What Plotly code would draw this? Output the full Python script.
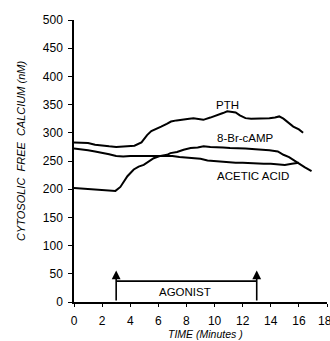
import plotly.graph_objects as go

# ---- data ----
pth_t = [0.0, 0.5, 1.0, 1.5, 2.0, 2.5, 3.0, 3.5, 4.0, 4.3, 4.8, 5.2, 5.5, 5.9, 6.2, 6.6, 6.9, 7.3,
         7.8, 8.2, 8.5, 8.9, 9.2, 9.7, 10.2, 10.6, 10.9, 11.2, 11.5, 11.8, 12.2, 12.6, 12.9, 13.4,
         13.9, 14.3, 14.6, 14.9, 15.3, 15.6, 16.0, 16.3]
pth_v = [283, 283, 282, 279, 277, 276, 275, 276, 276, 277, 283, 296, 303, 307, 311, 316, 320, 322,
         323, 325, 326, 324, 323, 327, 331, 335, 338, 337, 336, 331, 326, 325, 325, 326,
         326, 327, 329, 325, 317, 311, 306, 300]

brc_t = [0.0, 0.5, 1.0, 1.5, 2.1, 2.6, 2.95, 3.3, 3.5, 3.8, 4.25, 4.6, 4.96, 5.3, 5.67, 6.15, 6.62,
         6.86, 7.33, 7.8, 8.3, 8.8, 9.22, 9.7, 10.16, 10.6, 11.1, 11.5, 12.2, 12.9, 13.5, 13.9,
         14.5, 14.9, 15.3, 15.6, 16.0, 16.4, 16.9]
brc_v = [202, 201, 200, 199, 198, 197, 197, 204, 212, 223, 235, 240, 243, 249, 255, 259, 261,
         264, 266, 270, 273, 274, 276, 275, 275, 274, 273, 273, 272, 271, 270, 269,
         267, 261, 257, 252, 245, 239, 232]

ace_t = [0.0, 0.5, 1.0, 1.5, 2.0, 2.5, 3.0, 3.5, 4.0, 4.5, 5.0, 5.5, 6.0, 6.5, 7.0, 7.5, 8.0, 8.5,
         9.0, 9.5, 10.0, 10.5, 11.0, 11.5, 12.0, 12.5, 13.0, 13.5, 14.0, 14.5, 15.0, 15.5, 16.0]
ace_v = [272, 271, 269, 267, 265, 262, 259, 258, 259, 259, 259, 258, 258, 259, 259, 257, 256, 255,
         254, 251, 250, 248, 247, 247, 247, 246, 246, 245, 245, 244, 243, 245, 247]

series_names = ["PTH", "8-Br-cAMP", "ACETIC ACID"]
label_t = [10.9, 12.2, 12.7]
label_v = [349, 291, 223]

agonist_start = 3
agonist_end = 13
agonist_bar = 37
agonist_tip = 56
agonist_text_t = 7.9
agonist_text_v = 17

x_ticks = [0, 2, 4, 6, 8, 10, 12, 14, 16, 18]
y_ticks = [0, 50, 100, 150, 200, 250, 300, 350, 400, 450, 500]

FONT = "Liberation Sans"
INK = "#000000"

fig = go.Figure()
for t, v in [(pth_t, pth_v), (brc_t, brc_v), (ace_t, ace_v)]:
    fig.add_trace(go.Scatter(x=t, y=v, mode="lines", line=dict(color=INK, width=2),
                             showlegend=False, hoverinfo="skip"))

# agonist bracket
fig.add_trace(go.Scatter(x=[agonist_start, agonist_end], y=[agonist_bar, agonist_bar], mode="lines",
                         line=dict(color=INK, width=1.6), showlegend=False, hoverinfo="skip"))
for xa in [agonist_start, agonist_end]:
    fig.add_annotation(x=xa, y=agonist_tip, ax=xa, ay=0, xref="x", yref="y", axref="x", ayref="y",
                       text="", showarrow=True, arrowhead=2, arrowsize=1.1, arrowwidth=1.6,
                       arrowcolor=INK)

for name, t, v in zip(series_names, label_t, label_v):
    fig.add_annotation(x=t, y=v, text=name, showarrow=False,
                       font=dict(family=FONT, size=11.5, color=INK))
fig.add_annotation(x=agonist_text_t, y=agonist_text_v, text="AGONIST", showarrow=False,
                   font=dict(family=FONT, size=11.5, color=INK))

# last x tick label, nudged to stay inside the page edge
fig.add_annotation(x=x_ticks[-1], y=0, xref="x", yref="paper", yanchor="middle", xanchor="right",
                   xshift=7, yshift=-19, text=str(x_ticks[-1]),
                   showarrow=False, font=dict(family=FONT, size=12, color=INK))

# axis titles
fig.add_annotation(x=0, y=0.5, xref="paper", yref="paper", xshift=-61, yshift=10,
                   text="<i>CYTOSOLIC  FREE  CALCIUM (nM)</i>", textangle=-90, showarrow=False,
                   font=dict(family=FONT, size=11, color=INK))
fig.add_annotation(x=0.52, y=0, xref="paper", yref="paper", yanchor="middle", yshift=-32,
                   text="<i>TIME (Minutes )</i>", showarrow=False,
                   font=dict(family=FONT, size=10.5, color=INK))

fig.update_layout(
    width=330, height=341,
    margin=dict(l=74, r=3, t=20, b=39),
    paper_bgcolor="white", plot_bgcolor="white",
    font=dict(family=FONT, size=12, color=INK),
    xaxis=dict(range=[0, 18], tickvals=x_ticks,
               ticktext=[str(v) for v in x_ticks[:-1]] + [""],
               showgrid=False, zeroline=False, showline=True, linecolor=INK, linewidth=1.5,
               ticks="outside", ticklen=3, tickwidth=1.3, tickcolor=INK, ticklabelstandoff=4,
               tickfont=dict(family=FONT, size=12, color=INK)),
    yaxis=dict(range=[0, 500], tickvals=y_ticks, ticktext=[str(v) for v in y_ticks],
               showgrid=False, zeroline=False, showline=True, linecolor=INK, linewidth=1.5,
               ticks="outside", ticklen=4, tickwidth=1.3, tickcolor=INK, ticklabelstandoff=3,
               tickfont=dict(family=FONT, size=12, color=INK)),
)

fig.write_html("out.html")
